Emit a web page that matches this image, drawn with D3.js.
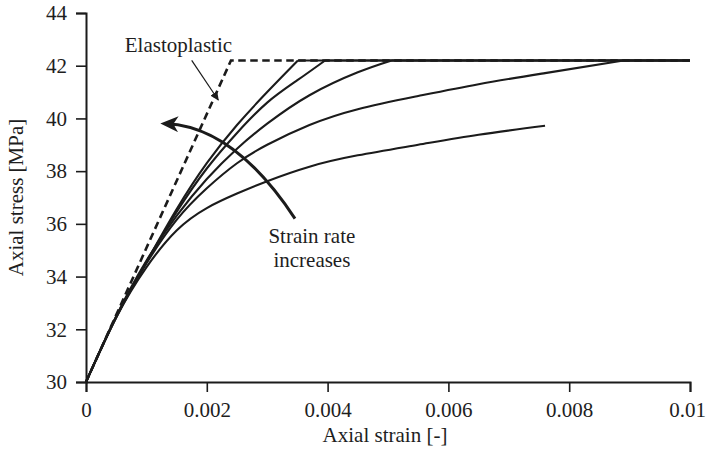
<!DOCTYPE html>
<html>
<head>
<meta charset="utf-8">
<script src="https://cdn.jsdelivr.net/npm/d3@7"></script>
<style>
  html, body { margin: 0; padding: 0; background: #fff; }
  svg { display: block; }
  text { font-family: "Liberation Serif", "DejaVu Serif", serif; fill: #1e1e1e; }
</style>
</head>
<body>
<svg id="chart" width="707" height="456"></svg>
<script>
// Stress-strain response of the material at increasing strain rates.
const xTicks = [0, 0.002, 0.004, 0.006, 0.008, 0.01];
const xTickLabels = ["0", "0.002", "0.004", "0.006", "0.008", "0.01"];
const yTicks = [30, 32, 34, 36, 38, 40, 42, 44];

// Yield plateau (MPa) and the ideal elastoplastic reference.
const plateau = 42.2;
const elastoplastic = [[0, 30], [0.0024, 42.2], [0.01, 42.2]];

// Rate-dependent curves, fastest first: [strain, stress MPa]
const rate1 = [[0, 30], [0.0005, 32.45], [0.001, 34.55], [0.0015, 36.55], [0.002, 38.3],
               [0.0025, 39.75], [0.003, 41.0], [0.00351, 42.2]];
const rate2 = [[0, 30], [0.0005, 32.47], [0.001, 34.55], [0.0015, 36.45], [0.002, 38.1],
               [0.0025, 39.45], [0.003, 40.6], [0.0035, 41.45], [0.00396, 42.2]];
const rate3 = [[0, 30], [0.0005, 32.5], [0.001, 34.6], [0.0015, 36.3], [0.002, 37.7],
               [0.0025, 38.85], [0.003, 39.8], [0.0037, 40.88], [0.0045, 41.75], [0.00506, 42.2]];
const rate4 = [[0, 30], [0.0005, 32.48], [0.001, 34.5], [0.0015, 36.15], [0.002, 37.35],
               [0.0025, 38.3], [0.003, 39.0], [0.0037, 39.75], [0.0045, 40.35], [0.0055, 40.85],
               [0.0065, 41.3], [0.0076, 41.72], [0.0089, 42.2]];
const rate5 = [[0, 30], [0.0005, 32.45], [0.001, 34.35], [0.0015, 35.75], [0.002, 36.6],
               [0.0025, 37.15], [0.003, 37.62], [0.0037, 38.17], [0.0045, 38.6], [0.0055, 39.0],
               [0.0065, 39.38], [0.0076, 39.72]];
const rateCurves = [rate1, rate2, rate3, rate4, rate5];

const svg = d3.select("#chart");
const ink = "#1b1b1b";

const x = d3.scaleLinear().domain([0, 0.01]).range([86, 690]);
const y = d3.scaleLinear().domain([30, 44]).range([382, 13]);

// Axes: major ticks with labels plus unlabeled minor ticks
const minorX = d3.range(0, 0.01 + 1e-9, 0.0005);
const minorY = d3.range(30, 44 + 1e-9, 0.5);

const gx = svg.append("g").attr("transform", `translate(0,${y(30)})`);
gx.call(d3.axisBottom(x).tickValues(minorX).tickSize(5).tickFormat(""));
gx.call(d3.axisBottom(x).tickValues(xTicks).tickSize(10).tickPadding(10)
  .tickFormat((d, i) => xTickLabels[i]));
// keep the last label inside the canvas
gx.selectAll(".tick text").filter(d => d === 0.01).attr("dx", -3);

const gy = svg.append("g").attr("transform", `translate(${x(0)},0)`);
gy.call(d3.axisLeft(y).tickValues(minorY).tickSize(5).tickFormat(""));
gy.call(d3.axisLeft(y).tickValues(yTicks).tickSize(10).tickPadding(9)
  .tickFormat(d3.format("d")));

svg.selectAll(".domain").attr("stroke", ink).attr("stroke-width", 2);
svg.selectAll(".tick line").attr("stroke", ink).attr("stroke-width", 1.6);
svg.selectAll(".tick text").attr("font-size", 21).attr("fill", "#1e1e1e")
  .style("font-family", "'Liberation Serif', serif");

// Axis titles
svg.append("text").attr("x", (x(0) + x(0.01)) / 2 - 3).attr("y", 442)
  .attr("text-anchor", "middle").attr("font-size", 21).text("Axial strain [-]");
svg.append("text")
  .attr("transform", `translate(23,${(y(30) + y(44)) / 2}) rotate(-90)`)
  .attr("text-anchor", "middle").attr("font-size", 21).text("Axial stress [MPa]");

// Curves
const line = d3.line().x(d => x(d[0])).y(d => y(d[1]));
const smooth = d3.line().x(d => x(d[0])).y(d => y(d[1])).curve(d3.curveNatural);

svg.append("path").datum(elastoplastic).attr("d", line)
  .attr("fill", "none").attr("stroke", ink).attr("stroke-width", 2.6)
  .attr("stroke-dasharray", "7.5,4.5");

rateCurves.forEach(c => {
  svg.append("path").datum(c).attr("d", smooth)
    .attr("fill", "none").attr("stroke", ink).attr("stroke-width", 2.1)
    .attr("stroke-linejoin", "round");
  const last = c[c.length - 1];
  if (last[1] >= plateau) {
    svg.append("path").datum([last, [0.01, plateau]]).attr("d", line)
      .attr("fill", "none").attr("stroke", ink).attr("stroke-width", 2.1);
  }
});

// Annotations
const defs = svg.append("defs");
defs.append("marker").attr("id", "bigHead").attr("markerUnits", "userSpaceOnUse")
  .attr("viewBox", "0 0 18 16").attr("refX", 12).attr("refY", 8)
  .attr("markerWidth", 18).attr("markerHeight", 16).attr("orient", "auto")
  .append("path").attr("d", "M0,0 L18,8 L0,16 L5,8 Z").attr("fill", ink);
defs.append("marker").attr("id", "smallHead").attr("markerUnits", "userSpaceOnUse")
  .attr("viewBox", "0 0 9 8").attr("refX", 8).attr("refY", 4)
  .attr("markerWidth", 9).attr("markerHeight", 8).attr("orient", "auto")
  .append("path").attr("d", "M0,0 L9,4 L0,8 Z").attr("fill", ink);

// "Strain rate increases" arc (strain, stress anchors)
const arcStart = [0.00346, 36.2], arcCtrl = [0.00245, 39.7], arcEnd = [0.00133, 39.8];
const arc = d3.path();
arc.moveTo(x(arcStart[0]), y(arcStart[1]));
arc.quadraticCurveTo(x(arcCtrl[0]), y(arcCtrl[1]), x(arcEnd[0]), y(arcEnd[1]));
svg.append("path").attr("d", arc.toString()).attr("fill", "none")
  .attr("stroke", ink).attr("stroke-width", 3).attr("marker-end", "url(#bigHead)");

svg.append("text").attr("x", x(0.00374)).attr("y", 243).attr("text-anchor", "middle")
  .attr("font-size", 21).text("Strain rate");
svg.append("text").attr("x", x(0.00374)).attr("y", 267).attr("text-anchor", "middle")
  .attr("font-size", 21).text("increases");

// "Elastoplastic" pointer
const ptrFrom = [0.00175, 42.2], ptrTo = [0.00219, 40.7];
svg.append("line").attr("x1", x(ptrFrom[0])).attr("y1", y(ptrFrom[1]))
  .attr("x2", x(ptrTo[0])).attr("y2", y(ptrTo[1]))
  .attr("stroke", ink).attr("stroke-width", 1.2).attr("marker-end", "url(#smallHead)");
svg.append("text").attr("x", x(0.00153)).attr("y", 52).attr("text-anchor", "middle")
  .attr("font-size", 21).text("Elastoplastic");
</script>
</body>
</html>
